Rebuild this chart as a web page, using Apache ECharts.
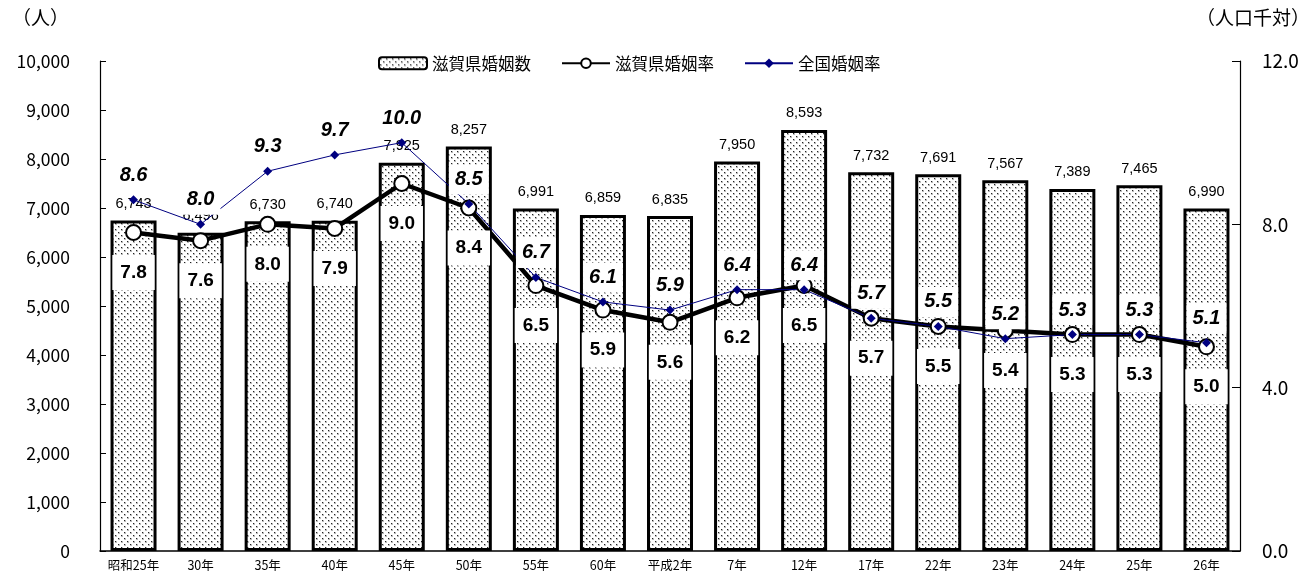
<!DOCTYPE html>
<html><head><meta charset="utf-8">
<script src="https://cdn.jsdelivr.net/npm/echarts@6/dist/echarts.min.js"></script>
<style>html,body{margin:0;padding:0;background:#fff}#c{width:1316px;height:576px}</style>
</head><body><div id="c"></div>
<script>
const categories = ['昭和25年','30年','35年','40年','45年','50年','55年','60年','平成2年','7年','12年','17年','22年','23年','24年','25年','26年'];
const shigaMarriages = [6743,6496,6730,6740,7925,8257,6991,6859,6835,7950,8593,7732,7691,7567,7389,7465,6990];
const shigaRate = [7.8,7.6,8.0,7.9,9.0,8.4,6.5,5.9,5.6,6.2,6.5,5.7,5.5,5.4,5.3,5.3,5.0];
const nationalRate = [8.6,8.0,9.3,9.7,10.0,8.5,6.7,6.1,5.9,6.4,6.4,5.7,5.5,5.2,5.3,5.3,5.1];
const leftTicks = {min:0, max:10000, interval:1000};
const rightTicks = {min:0, max:12, interval:4};

const cv = document.createElement('canvas');
cv.width = 6; cv.height = 6;
const g = cv.getContext('2d');
g.fillStyle = '#fff'; g.fillRect(0,0,6,6);
g.fillStyle = '#bbb';
g.fillRect(1,1,2,2); g.fillRect(4,4,2,2);
g.fillStyle = '#222';
g.fillRect(1,1,1,1); g.fillRect(4,4,1,1);
const pattern = {image: cv, repeat: 'repeat'};

const jp = '"Noto Sans CJK JP", sans-serif';
const chart = echarts.init(document.getElementById('c'));
chart.setOption({
  animation: false,
  backgroundColor: '#fff',
  grid: {left: 100, right: 76, top: 61, bottom: 25},
  legend: {
    top: 50, left: 373, itemGap: 30, itemWidth: 48, itemHeight: 12,
    textStyle: {fontFamily: jp, fontSize: 16.5, color: '#000'},
    data: ['滋賀県婚姻数','滋賀県婚姻率','全国婚姻率']
  },
  graphic: [
    {type:'text', left: 12, top: 8, style:{text:'（人）', font:'19px "Noto Sans CJK JP"', fill:'#000'}},
    {type:'text', right: 6, top: 8, style:{text:'（人口千対）', font:'19px "Noto Sans CJK JP"', fill:'#000'}}
  ],
  xAxis: {
    type: 'category', data: categories, boundaryGap: true,
    axisLine: {lineStyle: {color: '#000', width: 1.5}},
    axisTick: {inside: true, length: 4, lineStyle: {color: '#000'}},
    axisLabel: {fontFamily: jp, fontSize: 12.5, color: '#000', margin: 8, interval: 0}
  },
  yAxis: [
    {type: 'value', min: leftTicks.min, max: leftTicks.max, interval: leftTicks.interval,
     axisLine: {show: true, lineStyle: {color: '#000', width: 1.2}},
     axisTick: {show: true, inside: true, length: 6, lineStyle: {color: '#000'}},
     splitLine: {show: false},
     axisLabel: {fontFamily: jp, fontSize: 17.5, color: '#000', margin: 30,
       formatter: v => v.toLocaleString('en-US')}},
    {type: 'value', min: rightTicks.min, max: rightTicks.max, interval: rightTicks.interval,
     axisLine: {show: true, lineStyle: {color: '#000', width: 1.2}},
     axisTick: {show: true, inside: true, length: 8, lineStyle: {color: '#000'}},
     splitLine: {show: false},
     axisLabel: {fontFamily: jp, fontSize: 19, color: '#000', margin: 22,
       formatter: v => v.toFixed(1)}}
  ],
  series: [
    {name: '滋賀県婚姻数', type: 'bar', data: shigaMarriages, barWidth: 46,
     itemStyle: {color: pattern, borderColor: '#000', borderWidth: 3},
     label: {show: true, position: 'top', distance: 9, fontFamily: '"Liberation Sans", Arial', fontSize: 14.5, color: '#000',
       formatter: p => p.value.toLocaleString('en-US')}},
    {name: '滋賀県婚姻率', type: 'line', yAxisIndex: 1, data: shigaRate,
     lineStyle: {color: '#000', width: 4.5},
     symbol: 'circle', symbolSize: 15,
     itemStyle: {color: '#fff', borderColor: '#000', borderWidth: 2},
     label: {show: true, position: 'bottom', distance: 14, fontFamily: '"Liberation Sans", Arial', fontWeight: 'bold', fontSize: 19,
       color: '#000', backgroundColor: '#fff', padding: [8, 8], formatter: p => p.value.toFixed(1)}},
    {name: '全国婚姻率', type: 'line', yAxisIndex: 1, data: nationalRate,
     lineStyle: {color: '#000080', width: 1},
     symbol: 'diamond', symbolSize: 9,
     itemStyle: {color: '#000080'},
     label: {show: true, position: 'top', distance: 5, fontFamily: '"Liberation Sans", Arial', fontStyle: 'italic', fontWeight: 'bold', fontSize: 20,
       color: '#000', backgroundColor: '#fff', padding: [5, 6], formatter: p => p.value.toFixed(1)}}
  ]
});
</script></body></html>
